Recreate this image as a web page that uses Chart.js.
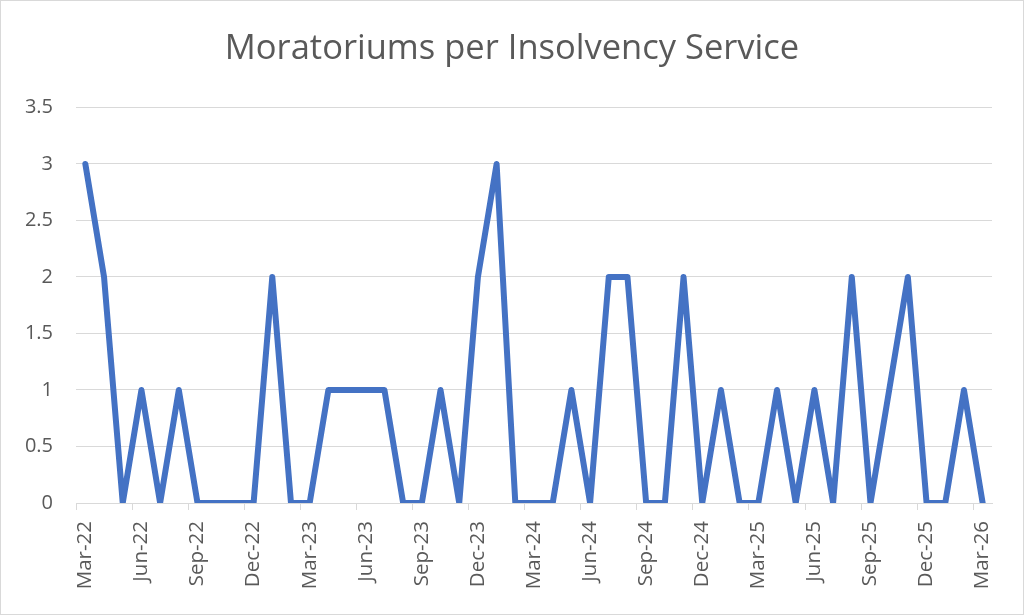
<!DOCTYPE html>
<html>
<head>
<meta charset="utf-8">
<script src="https://cdn.jsdelivr.net/npm/chart.js@4"></script>
<style>
  html, body { margin: 0; padding: 0; background: #fff; }
  #wrap { width: 1024px; height: 615px; box-sizing: border-box; border: 1px solid #d9d9d9; position: relative; }
</style>
</head>
<body>
<div id="wrap"><canvas id="chartMoratoriums"></canvas></div>
<script>
// monthly categories, Mar-22 .. Mar-26
var months = [
  "Mar-22","Apr-22","May-22","Jun-22","Jul-22","Aug-22","Sep-22","Oct-22","Nov-22","Dec-22",
  "Jan-23","Feb-23","Mar-23","Apr-23","May-23","Jun-23","Jul-23","Aug-23","Sep-23","Oct-23","Nov-23","Dec-23",
  "Jan-24","Feb-24","Mar-24","Apr-24","May-24","Jun-24","Jul-24","Aug-24","Sep-24","Oct-24","Nov-24","Dec-24",
  "Jan-25","Feb-25","Mar-25","Apr-25","May-25","Jun-25","Jul-25","Aug-25","Sep-25","Oct-25","Nov-25","Dec-25",
  "Jan-26","Feb-26","Mar-26"
];

// moratoriums per month
var moratoriums = [
  3, 2, 0, 1, 0, 1, 0, 0, 0, 0,
  2, 0, 0, 1, 1, 1, 1, 0, 0, 1, 0, 2,
  3, 0, 0, 0, 1, 0, 2, 2, 0, 0, 2, 0,
  1, 0, 0, 1, 0, 1, 0, 2, 0, 1, 2, 0,
  0, 1, 0
];

var yTicks = [0, 0.5, 1, 1.5, 2, 2.5, 3, 3.5];

var textColor = '#595959';
var gridColor = '#d9d9d9';
var fontFamily = '"Open Sans", "Noto Sans", sans-serif';

var ctx = document.getElementById('chartMoratoriums').getContext('2d');
var chart = new Chart(ctx, {
  type: 'line',
  data: {
    labels: months,
    datasets: [{
      label: 'Moratoriums',
      data: moratoriums,
      borderColor: '#4472c4',
      backgroundColor: '#4472c4',
      borderWidth: 6,
      pointRadius: 0,
      tension: 0,
      fill: false,
      borderJoinStyle: 'round',
      borderCapStyle: 'round'
    }]
  },
  options: {
    responsive: true,
    maintainAspectRatio: false,
    animation: false,
    layout: { padding: 0 },
    plugins: {
      legend: { display: false },
      tooltip: { enabled: false },
      title: {
        display: true,
        text: 'Moratoriums per Insolvency Service',
        color: textColor,
        font: { family: fontFamily, size: 34.5, weight: 'normal' },
        padding: { top: 27, bottom: 38 }
      }
    },
    scales: {
      x: {
        offset: true,
        grid: {
          offset: true,
          drawOnChartArea: false,
          tickLength: 7,
          color: function (c) { return c.index % 3 === 0 ? gridColor : 'transparent'; }
        },
        border: { display: true, color: gridColor, width: 1 },
        ticks: {
          autoSkip: false,
          maxRotation: 90,
          minRotation: 90,
          padding: 11,
          color: textColor,
          font: { family: fontFamily, size: 20.5 },
          callback: function (val, i) { return i % 3 === 0 ? this.getLabelForValue(val) : ''; }
        },
        afterFit: function (scale) { scale.height = 111; }
      },
      y: {
        min: 0,
        max: 3.5,
        afterBuildTicks: function (scale) {
          scale.ticks = yTicks.map(function (v) { return { value: v }; });
        },
        grid: { color: gridColor, drawTicks: false },
        border: { display: false },
        ticks: {
          padding: 23,
          color: textColor,
          font: { family: fontFamily, size: 20 },
          callback: function (v) { return String(v); }
        },
        afterFit: function (scale) { scale.width = 75; }
      },
      // empty right-hand spacer so the title stays centred on the whole picture
      spacer: {
        type: 'linear',
        position: 'right',
        display: true,
        grid: { display: false },
        border: { display: false },
        ticks: { display: false },
        afterFit: function (scale) { scale.width = 31; }
      }
    }
  }
});
</script>
</body>
</html>
